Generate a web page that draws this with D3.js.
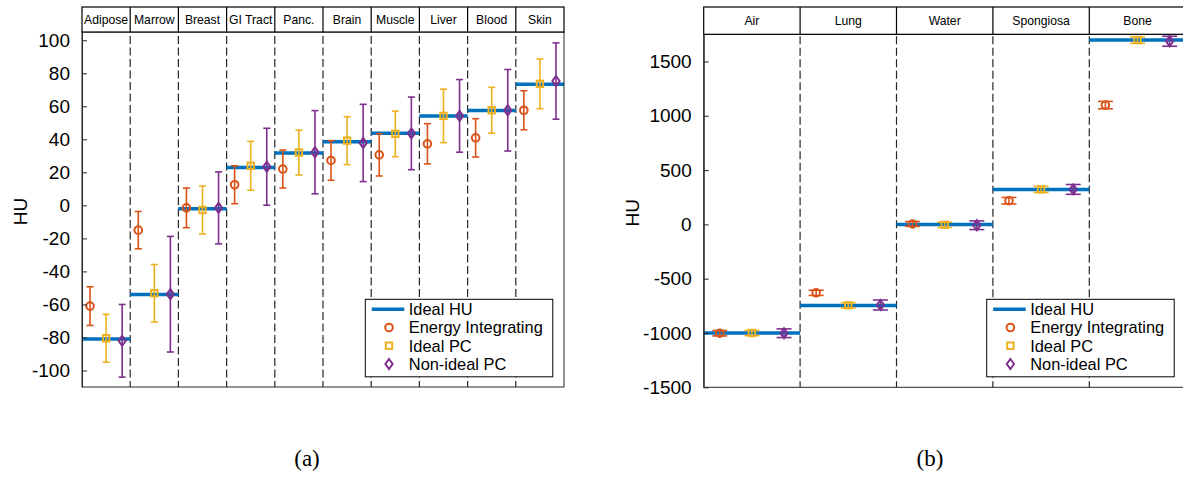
<!DOCTYPE html>
<html>
<head>
<meta charset="utf-8">
<script src="https://cdn.jsdelivr.net/npm/d3@7"></script>
<style>
  body { margin: 0; background: #fff; }
  svg { font-family: "Liberation Sans", Arial, Helvetica, sans-serif; }
</style>
</head>
<body>
<div id="chart"></div>
<script>
// panel (a): soft tissues
const tissuesA = ["Adipose", "Marrow", "Breast", "GI Tract", "Panc.", "Brain", "Muscle", "Liver", "Blood", "Skin"];
const idealA   = [-81, -54, -2, 23, 31.7, 38.5, 43.7, 54.2, 57.4, 73.3];
const eiA      = [-61, -15, -1.5, 12.5, 22, 27.2, 30.6, 37.3, 40.9, 57.6];
const eiErrA   = [11.7, 11.3, 12, 11.5, 11.5, 12, 12.8, 12.2, 11.6, 11.8];
const pcA      = [-80.5, -53.2, -2.8, 24, 32, 39.2, 43.3, 54.2, 57.6, 73.6];
const pcErrA   = [14.5, 17.4, 14.5, 14.8, 13.6, 14.5, 13.8, 16.2, 13.9, 15];
const npcA     = [-82, -53.8, -1.5, 23.4, 32.2, 37.8, 43.6, 54.2, 57.6, 75.3];
const npcErrA  = [22, 35, 21.8, 23.3, 25.2, 23.4, 22, 22, 24.7, 23.1];
const ticksA   = [-100, -80, -60, -40, -20, 0, 20, 40, 60, 80, 100];

// panel (b): full HU range
const materialsB = ["Air", "Lung", "Water", "Spongiosa", "Bone"];
const idealB   = [-1000, -746, 0, 322, 1697];
const eiB      = [-1002, -630, 4, 218, 1098];
const eiErrB   = [25, 24, 22, 30, 34];
const pcB      = [-1000, -745, -4, 322, 1697];
const pcErrB   = [24, 24, 24, 28, 30];
const npcB     = [-1002, -742, -8, 322, 1686];
const npcErrB  = [40, 46, 40, 45, 46];
const ticksB   = [-1500, -1000, -500, 0, 500, 1000, 1500];

const legendNames = ["Ideal HU", "Energy Integrating", "Ideal PC", "Non-ideal PC"];
const colBlue = "#0072BD", colEI = "#D95319", colPC = "#EDB120", colNPC = "#7E2F8E";

const svg = d3.select("#chart").append("svg")
  .attr("width", 1183).attr("height", 500);

function drawPanel(p) {
  const g = svg.append("g");
  const x = d3.scaleBand().domain(p.cats).range([p.left, p.right]).paddingInner(0).paddingOuter(0);
  const y = d3.scaleLinear().domain(p.domain).range([p.bottom, p.top]);
  const bw = x.bandwidth();

  // dashed separators
  g.selectAll(".sep")
    .data(p.cats.slice(1))
    .join("line")
      .attr("x1", d => x(d)).attr("x2", d => x(d))
      .attr("y1", p.bottom).attr("y2", p.top)
      .attr("stroke", "#262626")
      .attr("stroke-width", 1.2)
      .attr("stroke-dasharray", "8,3.5")
      .attr("stroke-dashoffset", 2);

  // ideal HU lines
  g.selectAll(".ideal")
    .data(p.cats)
    .join("line")
      .attr("x1", d => x(d)).attr("x2", d => x(d) + bw)
      .attr("y1", (d, i) => y(p.ideal[i])).attr("y2", (d, i) => y(p.ideal[i]))
      .attr("stroke", colBlue)
      .attr("stroke-width", 3.5);

  const series = [
    {vals: p.ei, errs: p.eiErr, col: colEI, off: 1 / 6, shape: "circle"},
    {vals: p.pc, errs: p.pcErr, col: colPC, off: 0.5, shape: "square"},
    {vals: p.npc, errs: p.npcErr, col: colNPC, off: 5 / 6, shape: "diamond"}
  ];

  series.forEach(s => {
    const pts = p.cats.map((c, i) => ({cx: x(c) + bw * s.off, v: s.vals[i], e: s.errs[i]}));
    const sg = g.append("g").attr("stroke", s.col).attr("fill", "none");
    // error bars
    sg.selectAll(".eb").data(pts).join("line")
      .attr("x1", d => d.cx).attr("x2", d => d.cx)
      .attr("y1", d => y(d.v - d.e)).attr("y2", d => y(d.v + d.e))
      .attr("stroke-width", 1.6);
    [-1, 1].forEach(sign => {
      sg.selectAll(".cap" + sign).data(pts).join("line")
        .attr("x1", d => d.cx - p.cap / 2).attr("x2", d => d.cx + p.cap / 2)
        .attr("y1", d => y(d.v + sign * d.e)).attr("y2", d => y(d.v + sign * d.e))
        .attr("stroke-width", 1.6);
    });
    // markers
    drawMarker(sg.selectAll(".mk").data(pts), s.shape, d => d.cx, d => y(d.v));
  });

  // axis box
  g.append("rect")
    .attr("x", p.left).attr("y", p.top)
    .attr("width", p.right - p.left).attr("height", p.bottom - p.top)
    .attr("fill", "none").attr("stroke", "#262626").attr("stroke-width", 1);

  // y axis
  const yAxis = d3.axisLeft(y).tickValues(p.ticks).tickFormat(d => String(d))
    .tickSizeInner(-5).tickSizeOuter(0).tickPadding(12);
  const ya = g.append("g").attr("transform", `translate(${p.left},0)`).call(yAxis);
  ya.select(".domain").attr("stroke", "#262626");
  ya.selectAll(".tick line").attr("stroke", "#262626");
  ya.selectAll(".tick text")
    .attr("font-size", "19px")
    .attr("fill", "#000")
    .attr("font-family", "Liberation Sans, Arial, sans-serif");

  // HU label
  g.append("text")
    .attr("transform", `translate(${p.labelX},${(p.top + p.bottom) / 2 + 2}) rotate(-90)`)
    .attr("text-anchor", "middle")
    .attr("font-size", "19px")
    .text("HU");

  // header with category names
  const hg = g.append("g");
  hg.append("rect")
    .attr("x", p.left).attr("y", p.headTop)
    .attr("width", p.right - p.left).attr("height", p.top - p.headTop)
    .attr("fill", "#fff").attr("stroke", "#000").attr("stroke-width", 1.2);
  hg.selectAll(".hd").data(p.cats.slice(1)).join("line")
    .attr("x1", d => x(d)).attr("x2", d => x(d))
    .attr("y1", p.headTop).attr("y2", p.top)
    .attr("stroke", "#000").attr("stroke-width", 1.2);
  hg.selectAll(".ht").data(p.cats).join("text")
    .attr("x", d => x(d) + bw / 2)
    .attr("y", (p.headTop + p.top) / 2 + 4.5)
    .attr("text-anchor", "middle")
    .attr("font-size", "12.2px")
    .text(d => d);

  // legend
  const lg = g.append("g").attr("transform", `translate(${p.legX},${p.legY})`);
  lg.append("rect").attr("width", 187.5).attr("height", 77.5)
    .attr("fill", "#fff").attr("stroke", "#000").attr("stroke-width", 1);
  const rows = [10, 28.2, 46.4, 64.7];
  lg.append("line").attr("x1", 6.5).attr("x2", 39).attr("y1", rows[0]).attr("y2", rows[0])
    .attr("stroke", colBlue).attr("stroke-width", 3.5);
  const legSer = [{col: colEI, shape: "circle"}, {col: colPC, shape: "square"}, {col: colNPC, shape: "diamond"}];
  legSer.forEach((s, i) => {
    const mg = lg.append("g").attr("stroke", s.col).attr("fill", "none");
    drawMarker(mg.selectAll(".lm").data([0]), s.shape, () => 23.7, () => rows[i + 1]);
  });
  lg.selectAll(".lt").data(legendNames).join("text")
    .attr("x", 43.5).attr("y", (d, i) => rows[i] + 6)
    .attr("font-size", "16.4px")
    .text(d => d);

  // caption
  svg.append("text")
    .attr("x", p.capX).attr("y", 466)
    .attr("text-anchor", "middle")
    .attr("font-family", "Liberation Serif, 'DejaVu Serif', serif")
    .attr("font-size", "23px")
    .text(p.caption);
}

function drawMarker(sel, shape, fx, fy) {
  if (shape === "circle") {
    sel.join("circle").attr("cx", fx).attr("cy", fy).attr("r", 3.8)
      .attr("stroke-width", 2).attr("fill", "none");
  } else if (shape === "square") {
    sel.join("rect").attr("x", d => fx(d) - 3.2).attr("y", d => fy(d) - 3.2)
      .attr("width", 6.4).attr("height", 6.4)
      .attr("stroke-width", 2).attr("fill", "none");
  } else {
    sel.join("path")
      .attr("d", d => `M${fx(d)},${fy(d) - 5}L${fx(d) + 3.6},${fy(d)}L${fx(d)},${fy(d) + 5}L${fx(d) - 3.6},${fy(d)}Z`)
      .attr("stroke-width", 2).attr("fill", "none");
  }
}

drawPanel({
  cats: tissuesA, ideal: idealA, ei: eiA, eiErr: eiErrA, pc: pcA, pcErr: pcErrA, npc: npcA, npcErr: npcErrA,
  ticks: ticksA, domain: [-110, 105],
  left: 82, right: 564, top: 32, bottom: 387, headTop: 7,
  cap: 7, labelX: 27, legX: 365.3, legY: 299.3, capX: 307, caption: "(a)"
});

drawPanel({
  cats: materialsB, ideal: idealB, ei: eiB, eiErr: eiErrB, pc: pcB, pcErr: pcErrB, npc: npcB, npcErr: npcErrB,
  ticks: ticksB, domain: [-1500, 1750],
  left: 703.7, right: 1185.7, top: 34.3, bottom: 387.3, headTop: 7,
  cap: 15, labelX: 639, legX: 986.7, legY: 299.3, capX: 930, caption: "(b)"
});
</script>
</body>
</html>
